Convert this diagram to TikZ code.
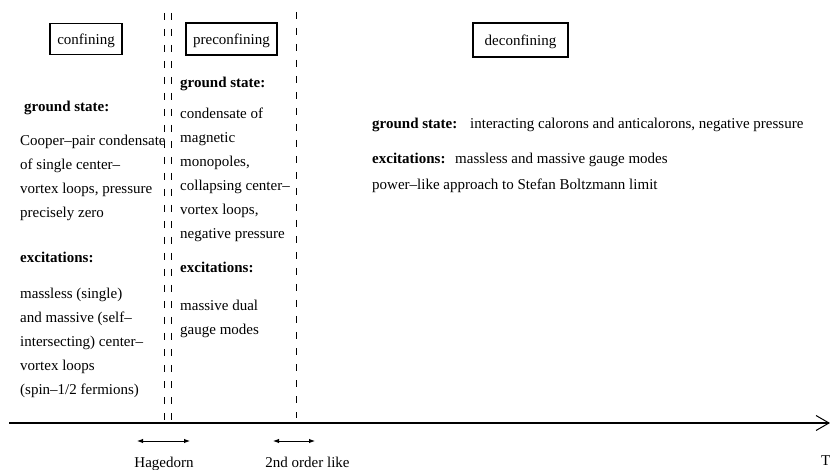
\documentclass[tikz,border=0pt]{standalone}
\usepackage{fontspec}
\setmainfont{Liberation Serif}
\usetikzlibrary{arrows.meta}

\tikzstyle{phase box}=[draw,line width=1.4pt,inner sep=0pt,text depth=0pt,font=\fontsize{15}{24}\selectfont]
\tikzstyle{plain text}=[inner sep=0pt,anchor=base west,font=\fontsize{15}{24}\selectfont]
\tikzstyle{head text}=[plain text,font=\fontsize{15}{24}\selectfont\bfseries]
\tikzstyle{text block}=[inner sep=0pt,anchor=north west,align=left,font=\fontsize{15}{24}\selectfont]
\tikzstyle{phase line} = [draw,line width=0.8pt,dash pattern=on 7pt off 9pt]
\tikzstyle{temp axis} = [draw,line width=1.4pt,-{Straight Barb[length=13pt,width=15pt,line width=1pt]}]
\tikzstyle{span arrow} = [draw,line width=1pt,{Latex[length=6pt,width=4.5pt]}-{Latex[length=6pt,width=4.5pt]}]

\begin{document}
\begin{tikzpicture}[x=1pt,y=-1pt]
			\useasboundingbox (0,0) rectangle (830,470);
			% the three phases
			\node[phase box,minimum width=72pt,minimum height=31pt] (conf) at (86,39) {confining};
			\node[phase box,minimum width=91pt,minimum height=32pt] (preconf) at (231.5,39) {preconfining};
			\node[phase box,minimum width=95pt,minimum height=34pt] (deconf) at (520.5,40) {deconfining};
			% confining phase
			\node[head text] (cgs) at (24,112) {ground state:};
			\node[text block] (cgstext) at (20,134.5) {Cooper--pair condensate\\of single center--\\vortex loops, pressure\\precisely zero};
			\node[head text] (cex) at (20,263) {excitations:};
			\node[text block] (cextext) at (20,287.5) {massless (single)\\and massive (self--\\intersecting) center--\\vortex loops\\(spin--1/2 fermions)};
			% preconfining phase
			\node[head text] (pgs) at (180,88) {ground state:};
			\node[text block] (pgstext) at (180,107.5) {condensate of\\magnetic\\monopoles,\\collapsing center--\\vortex loops,\\negative pressure};
			\node[head text] (pex) at (180,273) {excitations:};
			\node[text block] (pextext) at (180,299.5) {massive dual\\gauge modes};
			% deconfining phase
			\node[head text] (dgs) at (372,129) {ground state:};
			\node[plain text] (dgstext) at (470,129) {interacting calorons and anticalorons, negative pressure};
			\node[head text] (dex) at (372,164) {excitations:};
			\node[plain text] (dextext) at (455,164) {massless and massive gauge modes};
			\node[plain text] (dsb) at (372,190) {power--like approach to Stefan Boltzmann limit};
			% transitions
			\node[plain text,anchor=base] (hag) at (164,467) {Hagedorn};
			\node[plain text,anchor=base] (second) at (307.5,467) {2nd order like};
			\node[plain text] (temp) at (821,465) {T};
			\coordinate (hag left) at (137,441);
			\coordinate (hag right) at (190,441);
			\coordinate (second left) at (273,441);
			\coordinate (second right) at (315,441);
			\coordinate (axis start) at (9,423);
			\coordinate (axis end) at (830,423);
			\coordinate (h1 top) at (164,13);
			\coordinate (h1 bottom) at (164,423);
			\coordinate (h2 top) at (171,13);
			\coordinate (h2 bottom) at (171,423);
			\coordinate (so top) at (296,12);
			\coordinate (so bottom) at (296,418);
	    		% dashed borders between the phases
	   		 \foreach \source/ \dest in {h1 top/h1 bottom, h2 top/h2 bottom, so top/so bottom}
			 \path[phase line] (\source) to (\dest);
			% temperature axis
			\path[temp axis] (axis start) to (axis end);
			\path[span arrow] (hag left) to (hag right);
			\path[span arrow] (second left) to (second right);
		\end{tikzpicture}
\end{document}
